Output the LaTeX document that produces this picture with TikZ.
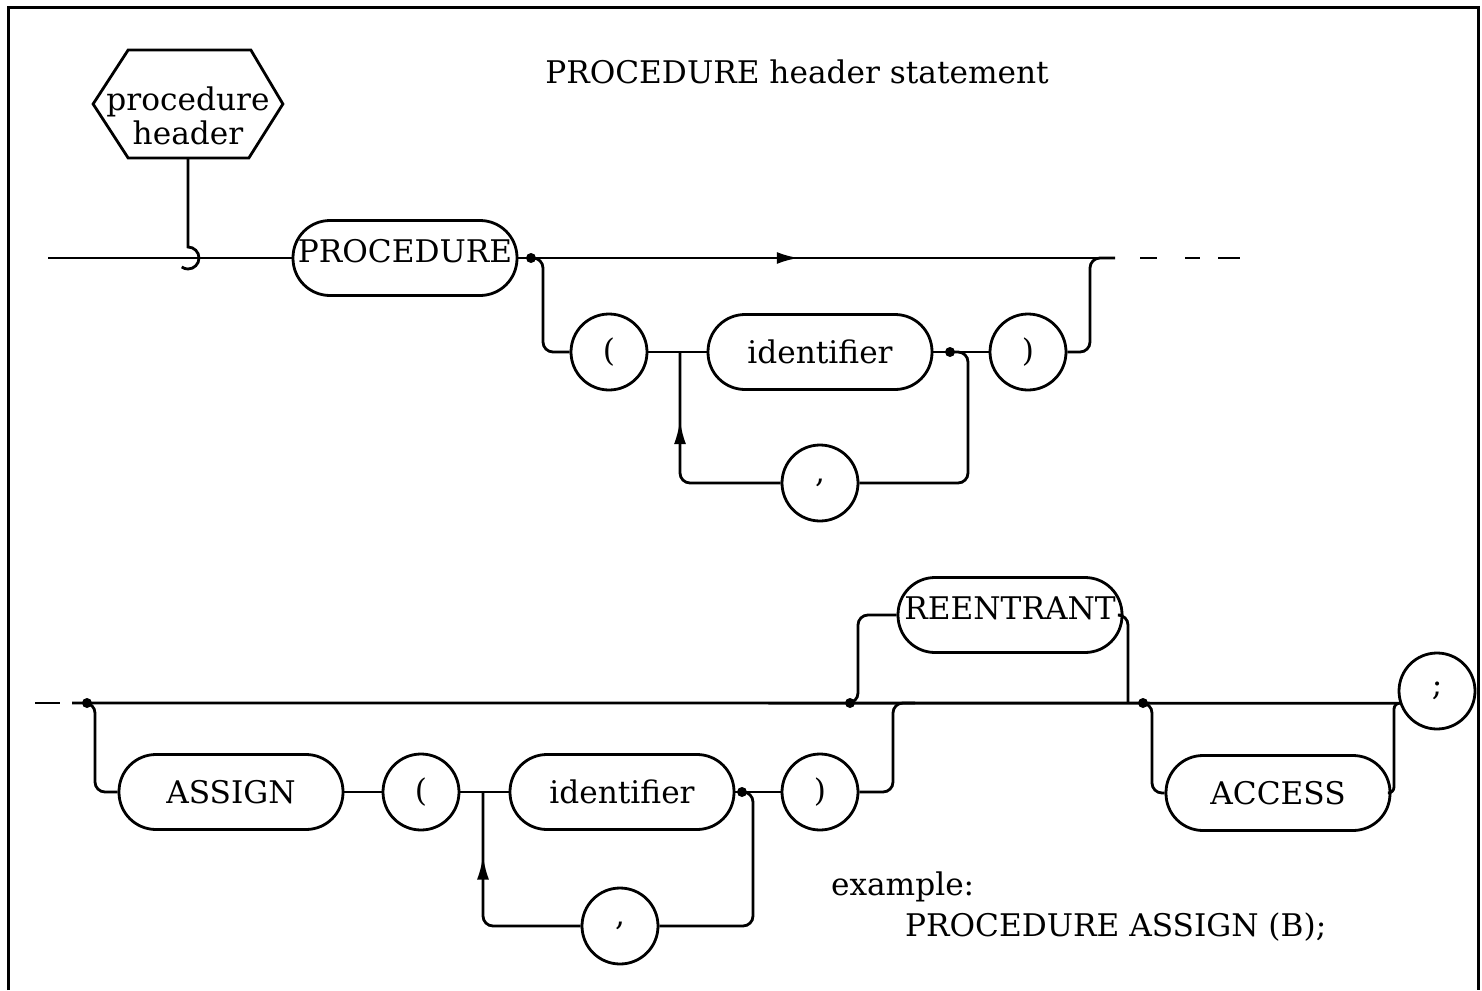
\documentclass[tikz,border=0pt]{standalone}
\usepackage{fontspec}
\setmainfont{DejaVu Serif}
\usetikzlibrary{arrows.meta,decorations.markings,calc}
\begin{document}
\begin{tikzpicture}[x=0.5pt,y=-0.5pt,
  line width=1.4pt,
  font=\fontsize{15.6pt}{17pt}\selectfont,
  stad/.style={draw, rectangle, rounded corners=18.5pt, minimum width=112pt, minimum height=37.5pt, inner sep=0pt},
  term/.style={draw, circle, minimum size=38pt, inner sep=0pt},
  dot/.style={circle, fill, inner sep=0pt, minimum size=5pt},
  rc/.style={rounded corners=5pt},
  loopup/.style={postaction={decorate}, decoration={markings, mark=at position #1 with {\arrow{Latex[length=12pt,width=6pt]}}}},
  mainarrow/.style={postaction={decorate}, decoration={markings, mark=at position #1 with {\arrow{Latex[length=11pt,width=6pt]}}}}
]
\useasboundingbox (0,0) rectangle (1482,990);
% border
\draw[line width=1.5pt] (8,990) -- (8,8) -- (1478,8) -- (1478,990);

% title
\node (title) at (797,72) {PROCEDURE header statement};

% hexagon
\node[minimum width=93.5pt, minimum height=52.5pt, inner sep=0pt] (hex) at (188,104) {};
\node[align=center, inner sep=0pt] (hextext) at (188,116) {procedure\\header};
\draw (hex.west) -- ([xshift=17.5pt]hex.north west) -- ([xshift=-16pt]hex.north east) -- (hex.east) -- ([xshift=-17pt]hex.south east) -- ([xshift=17.5pt]hex.south west) -- cycle;
\draw (hex.south) -- (188,247) arc[start angle=-90, end angle=125, radius=11];

% top row
\coordinate (s1) at (48,258);
\node[stad] (proc) at (405,258) {\raisebox{-2pt}[0pt][0pt]{PROCEDURE}};
\draw (s1) -- (proc.west);
\node[dot] (d1) at (531,258) {};
\node[term] (lp1) at (609,352) {(};
\node[stad] (id1) at (820,352) {identifier};
\node[dot] (d2) at (950,352) {};
\node[term] (rp1) at (1028,352) {)};
\node[term] (cm1) at (820,483) {,};
\coordinate (b1) at (543,352);
\coordinate (j1) at (680,352);
\coordinate (b2) at (968,483);
\coordinate (k1) at (1090,258);
\coordinate (e1) at (1115,258);
\coordinate (e2) at (1240,258);

\draw[mainarrow=0.47] (proc.east) -- (e1);
\draw[rc] (d1.center) -| (b1) -- (lp1.west);
\draw (lp1.east) -- (id1.west);
\draw (id1.east) -- (rp1.west);
\draw[rc] (d2.center) -| (b2) -- (cm1.east);
\draw[rc, loopup=0.7] (cm1.west) -| (j1);
\draw[rc] (rp1.east) -| (k1) -- (e1);
\draw[dash pattern=on 0pt off 12.5pt on 8.5pt off 14pt on 7.5pt off 9pt on 9.5pt] (e1) -- (e2);

% bottom row
\coordinate (bs0) at (35,703);
\coordinate (bs1) at (60,703);
\coordinate (bs2) at (72,703);
\draw (bs0) -- (bs1);
\node[term] (semi) at (1437,691) {;};
\draw (bs2) -- (semi.198);
\node[dot] (da) at (87,703) {};
\node[stad] (asg) at (231,792) {ASSIGN};
\node[term] (lp2) at (421,792) {(};
\node[stad] (id2) at (622,792) {identifier};
\node[dot] (dd) at (742,792) {};
\node[term] (rp2) at (820,792) {)};
\node[term] (cm2) at (620,926) {,};
\coordinate (ca) at (95,792);
\coordinate (j2) at (483,792);
\coordinate (c4) at (753,926);
\coordinate (k2) at (893,703);
\coordinate (k2e) at (915,703);
\draw[rc] (da.center) -| (ca) -- (asg.west);
\draw (asg.east) -- (lp2.west);
\draw (lp2.east) -- (id2.west);
\draw (id2.east) -- (rp2.west);
\draw[rc] (dd.center) -| (c4) -- (cm2.east);
\draw[rc, loopup=0.72] (cm2.west) -| (j2);
\draw[rc] (rp2.east) -| (k2) -- (k2e);

% reentrant
\node[dot] (dr) at (850,703) {};
\node[stad] (reen) at (1010,615) {\raisebox{-2pt}[0pt][0pt]{REENTRANT}};
\coordinate (cr) at (858,615);
\coordinate (k3) at (1128,703);
\draw[rc] (dr.center) -| (cr) -- (reen.west);
\draw[rc] (reen.east) -| (k3);

% access
\node[dot] (dac) at (1143,703) {};
\node[stad] (acc) at (1278,793) {ACCESS};
\coordinate (cac) at (1152,793);
\coordinate (k4) at (1394,703);
\draw[rc] (dac.center) -| (cac) -- (acc.west);
\draw[rounded corners=3pt] (acc.east) -| (k4) -- (semi.198);

% example
\node[anchor=west] (ex1) at (823,887) {example:};
\node[anchor=west] (ex2) at (897,927) {PROCEDURE ASSIGN (B);};
\end{tikzpicture}
\end{document}
